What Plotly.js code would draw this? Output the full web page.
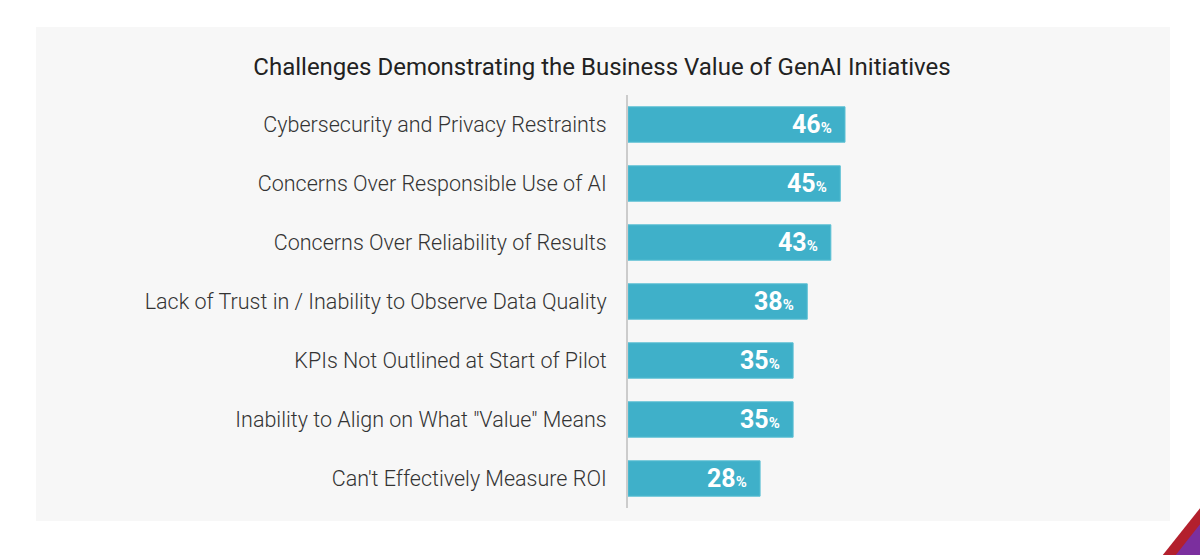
<!DOCTYPE html>
<html>
<head>
<meta charset="utf-8">
<script src="https://cdn.plot.ly/plotly-3.0.1.min.js"></script>
<style>
html,body{margin:0;padding:0;background:#fff;}
#chart{width:1200px;height:555px;}
</style>
</head>
<body>
<div id="chart"></div>
<script>
const categories = [
  "Cybersecurity and Privacy Restraints",
  "Concerns Over Responsible Use of AI",
  "Concerns Over Reliability of Results",
  "Lack of Trust in / Inability to Observe Data Quality",
  "KPIs Not Outlined at Start of Pilot",
  "Inability to Align on What \"Value\" Means",
  "Can't Effectively Measure ROI"
];
const values = [46, 45, 43, 38, 35, 35, 28];
const chartTitle = "Challenges Demonstrating the Business Value of GenAI Initiatives";

const W = 1200, H = 555;
const M = {l: 628, r: 30, t: 95, b: 47};
const plotW = W - M.l - M.r, plotH = H - M.t - M.b;
const px = x => (x - M.l) / plotW;
const py = y => (H - M.b - y) / plotH;

const barColor = "#3fb0c9";

const annotations = categories.map((c, i) => ({
  x: values[i], y: c, xref: "x", yref: "y",
  text: "<b>" + values[i] + "</b><b><span style=\"font-size:15px\">%</span></b>",
  showarrow: false, xanchor: "right", xshift: -11, yshift: 0,
  font: {family: "Roboto, sans-serif", size: 25, color: "#ffffff"}
}));

const shapes = [
  {type: "rect", xref: "paper", yref: "paper", layer: "below",
   x0: px(36), x1: px(1170), y0: py(521), y1: py(27),
   fillcolor: "#f7f7f7", line: {width: 0}},
  {type: "path", xref: "paper", yref: "paper", layer: "above",
   path: `M ${px(1162)} ${py(556)} L ${px(1201)} ${py(507)} L ${px(1201)} ${py(556)} Z`,
   fillcolor: "#b3202d", line: {width: 0}},
  {type: "path", xref: "paper", yref: "paper", layer: "above",
   path: `M ${px(1175)} ${py(556)} L ${px(1201)} ${py(523)} L ${px(1201)} ${py(556)} Z`,
   fillcolor: "#7b2f9e", line: {width: 0}}
];

const data = [{
  type: "bar", orientation: "h",
  x: values, y: categories,
  marker: {color: barColor, line: {color: "#5cc0d4", width: 1}},
  width: 0.6,
  hoverinfo: "skip"
}];

const layout = {
  width: W, height: H,
  margin: M,
  paper_bgcolor: "#ffffff",
  plot_bgcolor: "rgba(0,0,0,0)",
  showlegend: false,
  title: {text: chartTitle, x: 602/W, xanchor: "center", y: 1 - 67/H, yanchor: "middle",
          font: {family: "Roboto, sans-serif", size: 24, color: "#222222"}},
  xaxis: {range: [0, plotW / (217/46)], visible: false, fixedrange: true},
  yaxis: {autorange: "reversed", showline: true, linecolor: "#cccccc", linewidth: 2,
          showgrid: false, zeroline: false, ticks: "", ticklabelstandoff: 15,
          tickfont: {family: "Roboto, sans-serif", size: 21.5, color: "#333333", weight: 300}},
  annotations: annotations,
  shapes: shapes
};

Plotly.newPlot("chart", data, layout, {displayModeBar: false, staticPlot: true});
</script>
</body>
</html>
